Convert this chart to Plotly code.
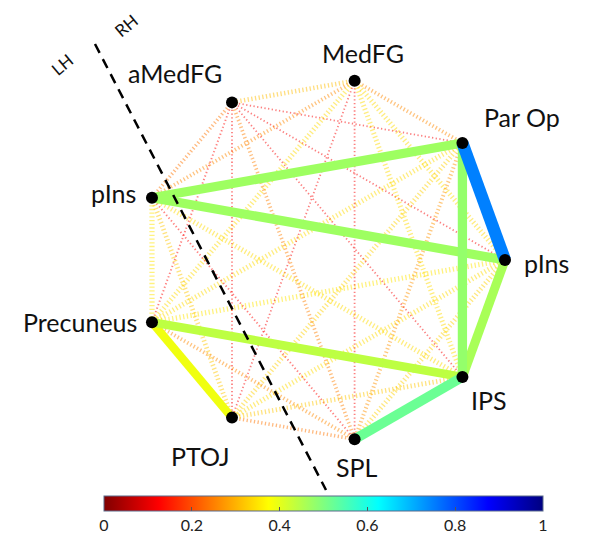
import math
import plotly.graph_objects as go
from plotly.colors import sample_colorscale

# ---------------- data ----------------
nodes = ["pIns", "Par Op", "MedFG", "aMedFG", "pIns", "Precuneus", "PTOJ", "SPL", "IPS"]

# strong connections (node index pairs) and their values
strong_src = [1, 1, 1, 4, 0, 5, 5, 8]
strong_dst = [0, 4, 8, 0, 8, 8, 6, 7]
strong_val = [0.75, 0.47, 0.48, 0.47, 0.46, 0.44, 0.39, 0.52]

# weak connections
weak_src = [0, 0, 0, 0, 0, 1, 1, 1, 1, 1, 2, 2, 2, 2, 2, 2, 3, 3, 3, 3, 3, 4, 4, 4, 4, 5, 6, 6]
weak_dst = [2, 3, 5, 6, 7, 2, 3, 5, 6, 7, 3, 4, 5, 6, 7, 8, 4, 5, 6, 7, 8, 5, 6, 7, 8, 7, 7, 8]
weak_val = [0.34, 0.12, 0.35, 0.34, 0.33, 0.26, 0.12, 0.34, 0.33, 0.27,
            0.31, 0.26, 0.34, 0.12, 0.12, 0.34, 0.24, 0.13, 0.12, 0.25,
            0.12, 0.35, 0.32, 0.13, 0.34, 0.26, 0.24, 0.32]

cbar_ticks = [0, 0.2, 0.4, 0.6, 0.8, 1]

# ---------------- styling / layout helpers ----------------
W, H = 592, 537
OFF = 8                      # page body margin of the html page
CX, CY, R = 323 - OFF, 260 - OFF, 182  # circle centre and radius in figure pixels
FONT = "Lato, Noto Sans, sans-serif"

jet_r = [
    [0.0, "rgb(128,0,0)"],
    [0.125, "rgb(255,0,0)"],
    [0.375, "rgb(255,255,0)"],
    [0.625, "rgb(0,255,255)"],
    [0.875, "rgb(0,0,255)"],
    [1.0, "rgb(0,0,128)"],
]

n = len(nodes)
ang = [math.radians(360.0 * i / n) for i in range(n)]
nx = [math.cos(a) for a in ang]
ny = [math.sin(a) for a in ang]


def col(v, alpha=1.0):
    c = sample_colorscale(jet_r, [v])[0]
    if alpha < 1:
        c = c.replace("rgb(", "rgba(").replace(")", f",{alpha})")
    return c


def px2x(px):
    return (px - OFF - CX) / R


def py2y(py):
    return (CY - (py - OFF)) / R


fig = go.Figure()

# weak dotted edges
for s, d, v in zip(weak_src, weak_dst, weak_val):
    fig.add_trace(go.Scatter(
        x=[nx[s], nx[d]], y=[ny[s], ny[d]], mode="lines",
        line=dict(color=col(v, 0.5), width=15 * v, dash="1.3px,2.4px"),
        hoverinfo="skip", showlegend=False))

# strong edges
order = sorted(range(len(strong_val)), key=lambda k: strong_val[k])
for k in order:
    s, d, v = strong_src[k], strong_dst[k], strong_val[k]
    fig.add_trace(go.Scatter(
        x=[nx[s], nx[d]], y=[ny[s], ny[d]], mode="lines",
        line=dict(color=col(v), width=4 + 11 * v),
        hoverinfo="skip", showlegend=False))

# nodes
fig.add_trace(go.Scatter(
    x=nx, y=ny, mode="markers",
    marker=dict(size=12, color="black"),
    hoverinfo="skip", showlegend=False))

# colorbar carrier
fig.add_trace(go.Scatter(
    x=[None], y=[None], mode="markers",
    marker=dict(size=0.1, color=[0], cmin=0, cmax=1, colorscale=jet_r, showscale=True,
                colorbar=dict(orientation="h", x=((104 + 543) / 2 - OFF) / W, xanchor="center",
                              y=1 - (496 - OFF) / H, yanchor="top", len=439 / W, lenmode="fraction",
                              thickness=15, outlinewidth=1, outlinecolor="#5a6a8a",
                              tickvals=cbar_ticks, ticktext=[f"{t:g}" for t in cbar_ticks],
                              ticks="inside", ticklen=4, tickcolor="#555",
                              tickfont=dict(family=FONT, size=16, color="#222"),
                              xpad=0, ypad=0)),
    hoverinfo="skip", showlegend=False))

# node labels: pixel offsets from node
label_off = [(17, 3, "left"), (20, -26, "left"), (8, -28, "center"), (-57, -29, "center"),
             (-14, -5, "right"), (-13, 0, "right"), (-32, 38, "center"), (2, 28, "center"),
             (27, 23, "center")]
ann = []
for i, name in enumerate(nodes):
    dx, dy, anc = label_off[i]
    ann.append(dict(x=nx[i] + dx / R, y=ny[i] - dy / R, text=name, showarrow=False,
                    xanchor=anc, yanchor="middle",
                    font=dict(family=FONT, size=25, color="#111")))

# hemisphere labels
for txt, px, py in [("LH", 62, 64), ("RH", 126, 25)]:
    ann.append(dict(x=px2x(px), y=py2y(py), text=txt, showarrow=False,
                    textangle=-40, font=dict(family=FONT, size=17, color="#111")))
fig.update_layout(annotations=ann)

# dividing dashed line
fig.add_shape(type="line", x0=px2x(95), y0=py2y(44), x1=px2x(326), y1=py2y(490),
              line=dict(color="black", width=2.5, dash="10px,7px"), layer="above")

fig.update_xaxes(range=[(0 - CX) / R, (W - CX) / R], visible=False, fixedrange=True)
fig.update_yaxes(range=[(CY - H) / R, (CY - 0) / R], visible=False, fixedrange=True)
fig.update_layout(width=W, height=H, margin=dict(l=0, r=0, t=0, b=0, autoexpand=False),
                  paper_bgcolor="white", plot_bgcolor="white")

fig.write_html("out.html")
